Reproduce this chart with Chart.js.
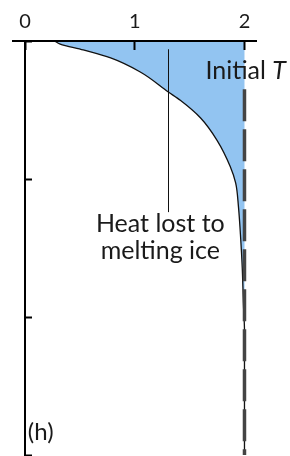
<!DOCTYPE html>
<html>
<head>
<meta charset="utf-8">
<script src="https://cdn.jsdelivr.net/npm/chart.js@4/dist/chart.umd.min.js"></script>
<style>
  html, body { margin: 0; padding: 0; background: #fff; }
  #wrap { width: 290px; height: 456px; }
</style>
</head>
<body>
<div id="wrap"><canvas id="chart"></canvas></div>
<script>
//* Input data //*

// Temperature profile with depth (depth grows downward).
var profileDepth = [0, 0.022, 0.065, 0.123, 0.225, 0.37, 0.43, 0.558, 0.72, 0.91, 1.03, 1.2, 1.4, 1.65, 1.9, 2.1, 2.5, 3];
var profileTemp = [0.27, 0.32, 0.53, 0.78, 1.05, 1.306, 1.415, 1.6, 1.75, 1.87, 1.92, 1.945, 1.963, 1.98, 1.99, 2.0, 2.0, 2.0];

// Initial temperature (dashed).
var initialDepth = [0.35, 3];
var initialTemp = [2, 2];

var xTicks = [0, 1, 2];
var yTicks = [0, 1, 2, 3];

var initialLabel = ['Initial ', 'T'];
var heatLabel = ['Heat lost to', 'melting ice'];
var panelLabel = '(h)';

var fontName = 'Lato, "Noto Sans", sans-serif';

//* Labels and pointer drawn on top //*

var notes = {
    id: 'notes',
    afterDatasetsDraw: function(chart) {
        var ctx = chart.ctx;
        var xs = chart.scales.x;
        var ys = chart.scales.y;
        ctx.save();

        // Pointer from the shaded area to its label.
        var px = Math.round(xs.getPixelForValue(1.306)) + 0.5;
        ctx.strokeStyle = '#111';
        ctx.lineWidth = 1;
        ctx.beginPath();
        ctx.moveTo(px, ys.getPixelForValue(0.06));
        ctx.lineTo(px, ys.getPixelForValue(1.24));
        ctx.stroke();

        ctx.fillStyle = '#1a1a1a';
        ctx.textBaseline = 'alphabetic';
        ctx.font = '25px ' + fontName;

        // Heat lost label, centred.
        ctx.textAlign = 'center';
        var cx = xs.getPixelForValue(1.233);
        ctx.fillText(heatLabel[0], cx, ys.getPixelForValue(1.384));
        ctx.fillText(heatLabel[1], cx, ys.getPixelForValue(1.58));

        // Initial T, with T in italics.
        ctx.textAlign = 'left';
        var ix = xs.getPixelForValue(1.644);
        var iy = ys.getPixelForValue(0.275);
        ctx.fillText(initialLabel[0], ix, iy);
        var w = ctx.measureText(initialLabel[0]).width;
        ctx.font = 'italic 25px ' + fontName;
        ctx.fillText(initialLabel[1], ix + w, iy);

        // Panel letter.
        ctx.font = '24px ' + fontName;
        ctx.fillText(panelLabel, xs.getPixelForValue(0.025), ys.getPixelForValue(2.89));

        ctx.restore();
    }
};

//* Build the chart //*

var profilePoints = profileDepth.map(function(d, i) { return {x: profileTemp[i], y: d}; });
var initialPoints = initialDepth.map(function(d, i) { return {x: initialTemp[i], y: d}; });

var chart = new Chart(document.getElementById('chart').getContext('2d'), {
    type: 'line',
    data: {
        datasets: [{
            data: profilePoints,
            borderColor: '#111',
            borderWidth: 1.3,
            backgroundColor: '#92c4f1',
            fill: {value: 2},
            pointRadius: 0,
            cubicInterpolationMode: 'monotone',
            order: 1
        }, {
            data: initialPoints,
            borderColor: '#444',
            borderWidth: 3.5,
            borderDash: [32, 8],
            pointRadius: 0,
            fill: false,
            order: 0
        }]
    },
    options: {
        indexAxis: 'y',
        responsive: true,
        maintainAspectRatio: false,
        animation: false,
        layout: { padding: { left: 13, right: 34, top: 0, bottom: 1 } },
        plugins: { legend: { display: false }, tooltip: { enabled: false } },
        scales: {
            x: {
                type: 'linear',
                position: 'top',
                min: -0.11,
                max: 2.105,
                afterBuildTicks: function(s) { s.ticks = xTicks.map(function(v) { return {value: v}; }); },
                afterFit: function(s) { s.height = 41; },
                ticks: {
                    padding: 16,
                    z: 1,
                    color: '#1a1a1a',
                    font: { family: fontName, size: 20 },
                    maxRotation: 0
                },
                grid: {
                    z: 1,
                    drawOnChartArea: false,
                    drawTicks: true,
                    tickLength: -9,
                    tickColor: '#000',
                    tickWidth: 2
                },
                border: { display: true, z: 1, color: '#000', width: 2 }
            },
            y: {
                type: 'linear',
                reverse: true,
                min: 0,
                max: 3,
                position: { x: 0 },
                afterBuildTicks: function(s) { s.ticks = yTicks.map(function(v) { return {value: v}; }); },
                ticks: { display: false },
                grid: {
                    z: 1,
                    drawOnChartArea: false,
                    drawTicks: true,
                    tickLength: -8,
                    tickColor: '#000',
                    tickWidth: 2
                },
                border: { display: true, z: 1, color: '#000', width: 2 }
            }
        }
    },
    plugins: [notes]
});
</script>
</body>
</html>
